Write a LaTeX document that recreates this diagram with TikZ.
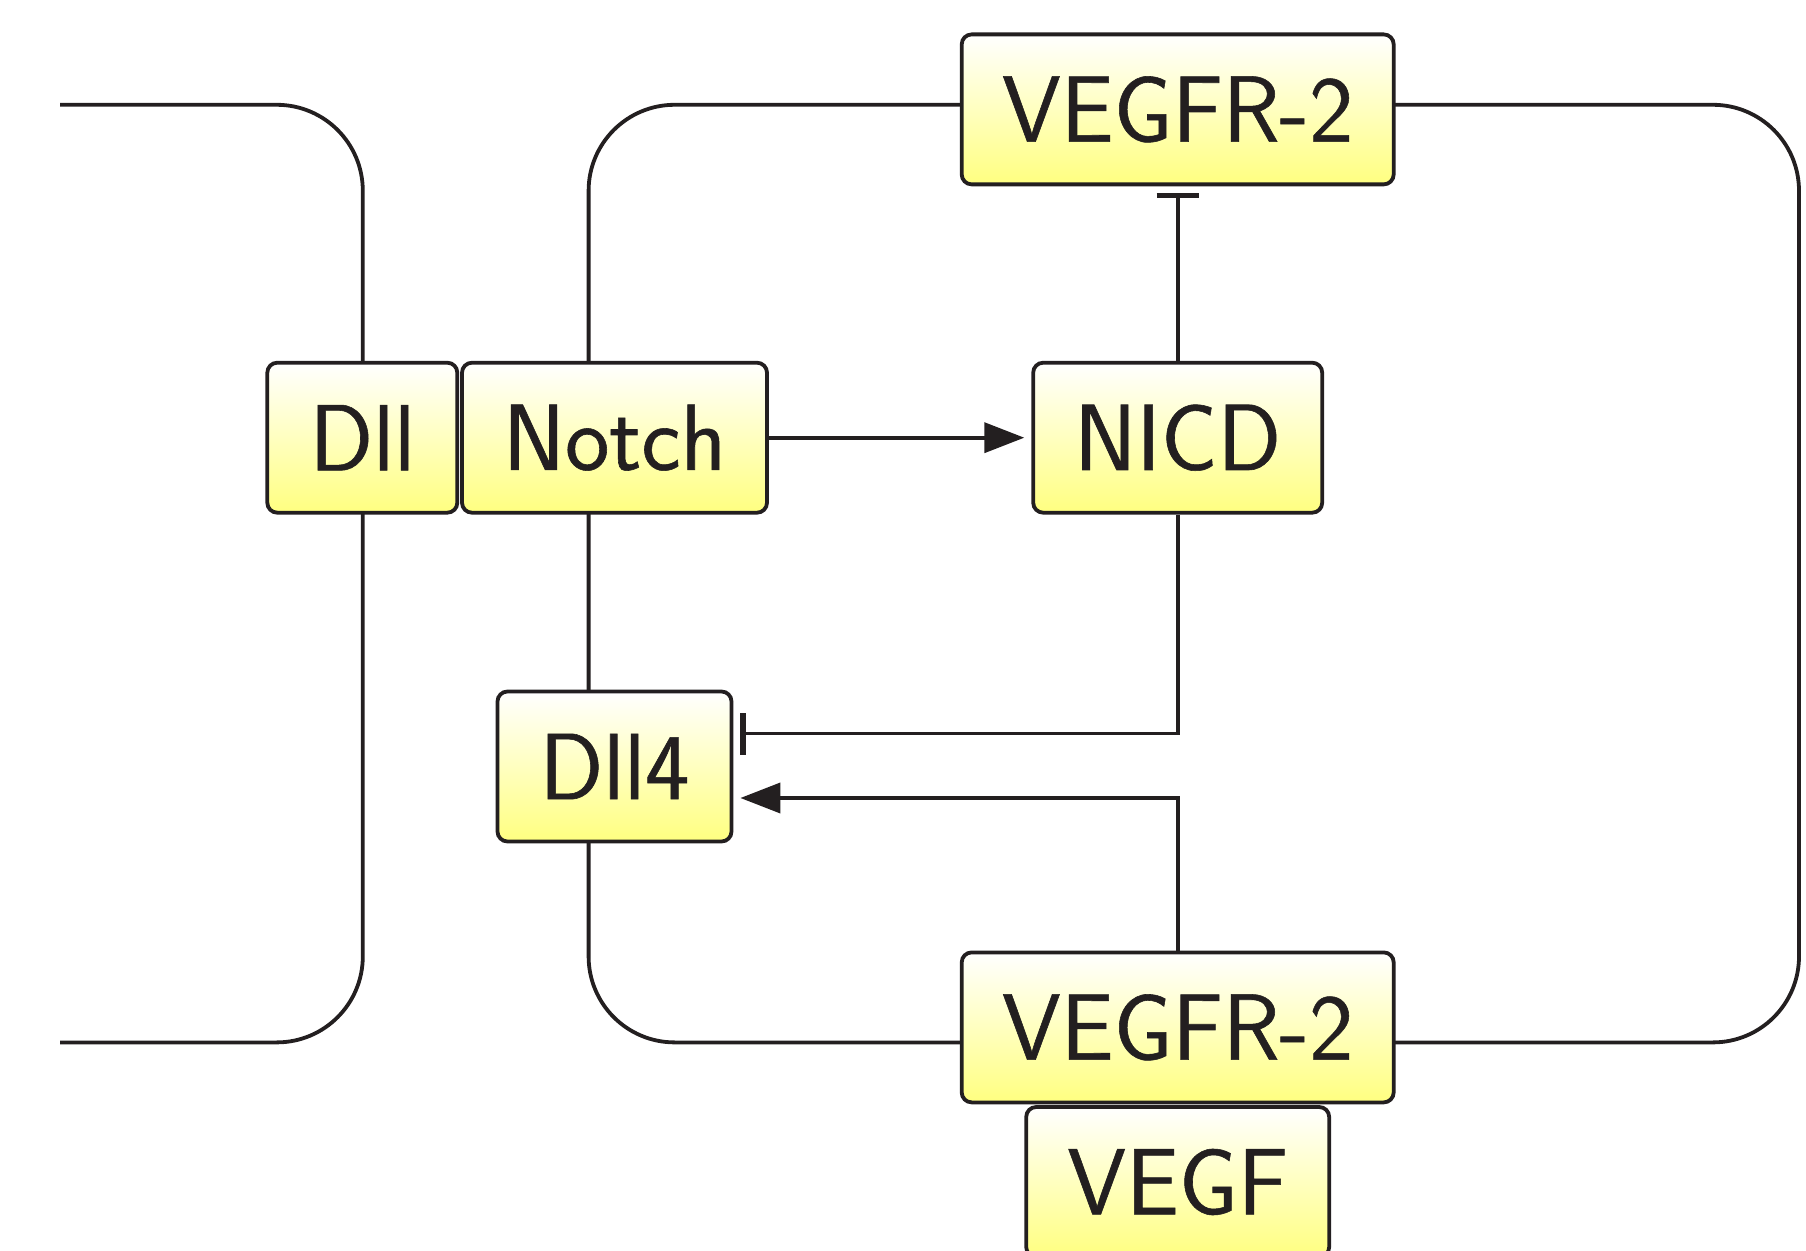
\documentclass[tikz,border=0pt]{standalone}
\usepackage{fontspec}
\newfontfamily\lsans{lmsans17-regular.otf}[FakeBold=0.6]
\usetikzlibrary{arrows.meta,calc}
\definecolor{ink}{HTML}{231F20}
\definecolor{yel}{HTML}{FFFF80}
\tikzset{
  box/.style={draw=ink, line width=1.9pt, rounded corners=5pt, top color=white, bottom color=yel,
    minimum height=75pt, inner sep=0pt, text=ink, font=\lsans\fontsize{47}{56}\selectfont},
  memb/.style={draw=ink, line width=1.9pt},
  act/.style={draw=ink, line width=1.9pt, -{Triangle[length=20pt,width=15pt]}, shorten >=3.5pt},
  inhib/.style={draw=ink, line width=1.9pt, -{Bar[width=21pt,line width=2.6pt]}, shorten >=3.5pt},
}
\begin{document}
\begin{tikzpicture}[x=0.5pt,y=-0.5pt]
\useasboundingbox (0,0) rectangle (1806,1251);
% membranes
\draw[memb, rounded corners=43pt] (60,104.8) -- (362.8,104.8) -- (362.8,1042.4) -- (60,1042.4);
\draw[memb, rounded corners=43pt] (588.6,104.8) rectangle (1799,1042.4);
% nodes
\node[box, minimum width=216pt] (vegfrtop) at (1177.7,109.4) {VEGFR-2};
\node[box, minimum width=95pt] (dll) at (362.3,437.7) {Dll};
\node[box, minimum width=152.5pt] (notch) at (614.5,437.7) {Notch};
\node[box, minimum width=144.5pt] (nicd) at (1177.7,437.7) {NICD};
\node[box, minimum width=117pt] (dllfour) at (614.5,766.5) {Dll4};
\node[box, minimum width=216pt] (vegfrbot) at (1177.7,1027.4) {VEGFR-2};
\node[box, minimum width=151.5pt] (vegf) at (1177.7,1182) {VEGF};
% connectors
\draw[act] (notch.east) -- (nicd.west);
\draw[inhib] (nicd.north) -- (vegfrtop.south);
\draw[inhib] (nicd.south) |- ($(dllfour.east)+(0,-33)$);
\draw[act] (vegfrbot.north) |- ($(dllfour.east)+(0,31.5)$);
\end{tikzpicture}
\end{document}
